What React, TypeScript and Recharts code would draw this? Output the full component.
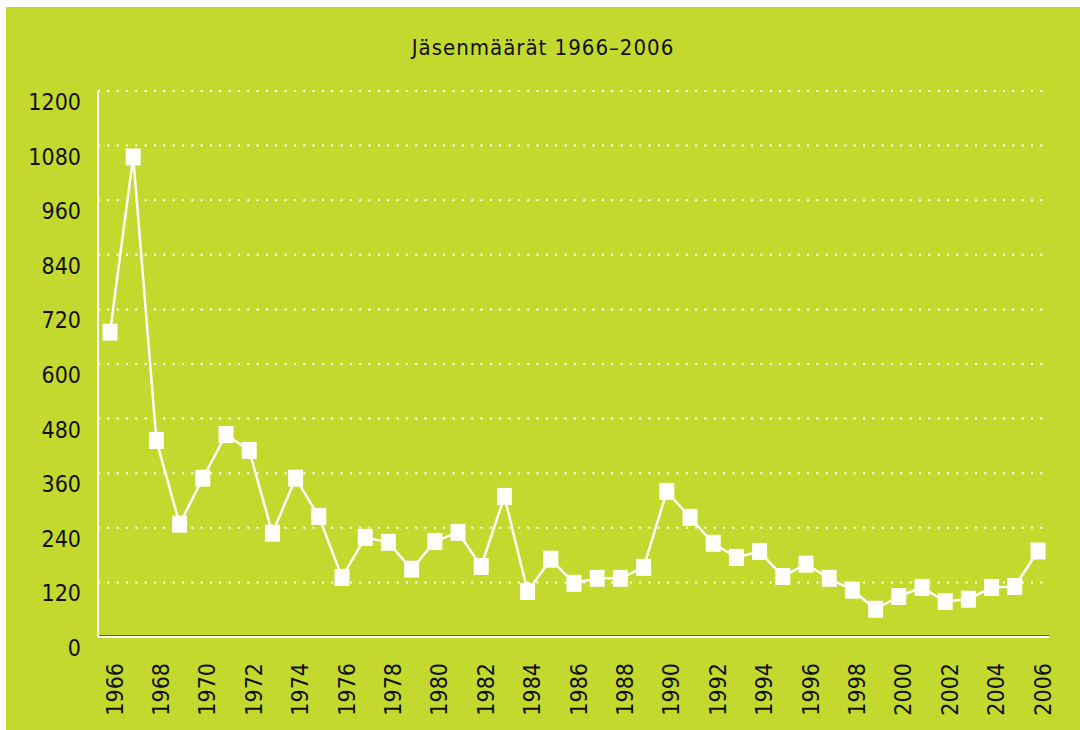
import { LineChart, Line, XAxis, YAxis, CartesianGrid, ReferenceLine } from 'recharts';

// Jäsenmäärät vuosittain
const years = [
  1966, 1967, 1968, 1969, 1970, 1971, 1972, 1973, 1974, 1975,
  1976, 1977, 1978, 1979, 1980, 1981, 1982, 1983, 1984, 1985,
  1986, 1987, 1988, 1989, 1990, 1991, 1992, 1993, 1994, 1995,
  1996, 1997, 1998, 1999, 2000, 2001, 2002, 2003, 2004, 2005, 2006,
];
const members = [
  670, 1055, 432, 248, 349, 445, 410, 228, 349, 265,
  131, 219, 208, 149, 210, 230, 155, 309, 100, 171,
  118, 129, 129, 153, 320, 263, 206, 175, 188, 133,
  160, 129, 103, 61, 89, 109, 78, 83, 109, 111, 189,
];
const yTicks = [0, 120, 240, 360, 480, 600, 720, 840, 960, 1080, 1200];
const xTicks = years.filter((y) => y % 2 === 0);
const title = 'Jäsenmäärät 1966–2006';

const GREEN = '#c3d92e';
const INK = '#111111';
const FONT = '"DejaVu Sans Condensed", "DejaVu Sans", sans-serif';

const data = years.map((year, i) => ({ year, members: members[i] }));

function SquareDot(props: any) {
  const { cx, cy, index } = props;
  if (cx == null || cy == null) return null;
  return <rect key={index} x={cx - 7.5} y={cy - 8.5} width={15} height={17} fill="#ffffff" />;
}

function YTick(props: any) {
  const { x, y, payload } = props;
  return (
    <text x={x} y={y + 19} textAnchor="end" fontSize={23} fill={INK} fontFamily={FONT}>
      {payload.value}
    </text>
  );
}

function XTick(props: any) {
  const { x, y, payload } = props;
  return (
    <text
      transform={`translate(${x + 12.5}, ${y + 26}) rotate(-90)`}
      textAnchor="end"
      fontSize={23}
      fill={INK}
      fontFamily={FONT}
    >
      {payload.value}
    </text>
  );
}

function GrayBase(props: any) {
  const { x1, x2, y1, y2 } = props;
  return <line x1={x1} x2={x2} y1={y1 - 1.5} y2={y2 - 1.5} stroke="#5a5a5a" strokeWidth={1} />;
}

export default function App() {
  return (
    <div style={{ position: 'absolute', left: 0, top: 0, width: 1080, height: 730, background: '#ffffff' }}>
      <div style={{ position: 'absolute', left: 6, top: 7, width: 1074, height: 723, background: GREEN }}>
        <div
          style={{
            position: 'absolute',
            left: 0,
            top: 30,
            width: 1074,
            textAlign: 'center',
            fontFamily: FONT,
            fontSize: 22,
            letterSpacing: 1,
            lineHeight: 1,
            color: INK,
          }}
        >
          {title}
        </div>
        <LineChart width={1074} height={723} data={data} margin={{ top: 84, right: 31, bottom: 0, left: 0 }}>
          <CartesianGrid vertical={false} stroke="#ffffff" strokeWidth={2} strokeDasharray="2 7.33" />
          <XAxis
            dataKey="year"
            type="number"
            domain={[1966, 2006]}
            ticks={xTicks}
            interval={0}
            padding={{ left: 12, right: 11 }}
            height={93}
            axisLine={{ stroke: '#ffffff', strokeWidth: 2 }}
            tickLine={false}
            tickSize={0}
            tickMargin={0}
            tick={<XTick />}
          />
          <YAxis
            type="number"
            domain={[0, 1200]}
            ticks={yTicks}
            interval={0}
            width={92}
            axisLine={{ stroke: '#ffffff', strokeWidth: 2 }}
            tickLine={false}
            tickSize={17}
            tickMargin={0}
            tick={<YTick />}
          />
          <ReferenceLine y={0} shape={<GrayBase />} />
          <Line
            type="linear"
            dataKey="members"
            stroke="#ffffff"
            strokeWidth={2.5}
            dot={<SquareDot />}
            activeDot={false}
            isAnimationActive={false}
          />
        </LineChart>
      </div>
    </div>
  );
}
